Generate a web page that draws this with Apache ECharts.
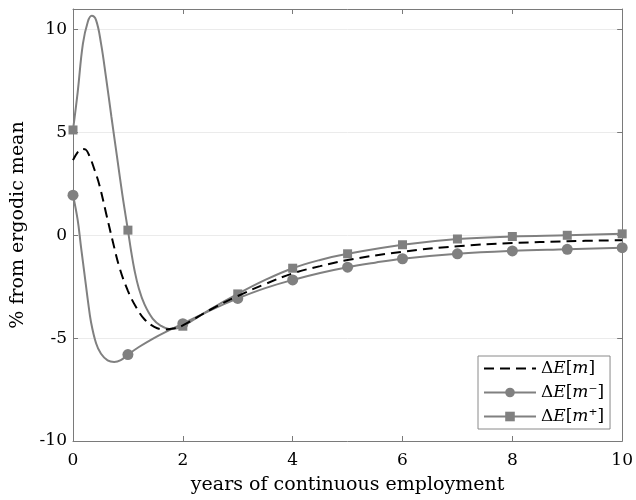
<!DOCTYPE html>
<html>
<head>
<meta charset="utf-8">
<script src="https://cdn.jsdelivr.net/npm/echarts@6/dist/echarts.min.js"></script>
<style>html,body{margin:0;padding:0;background:#fff}#c{width:636px;height:500px}</style>
</head>
<body>
<div id="c"></div>
<script>
// ΔE[m] (dashed black)
var mX = [0, 0.08, 0.16, 0.23, 0.3, 0.39, 0.48, 0.6, 0.72, 0.85, 1.0, 1.15, 1.3, 1.48, 1.66, 1.85, 2, 2.5, 3, 3.5, 4, 4.5, 5, 6, 7, 8, 9, 10];
var mY = [3.65, 4.02, 4.2, 4.17, 3.85, 3.2, 2.45, 1.1, -0.25, -1.6, -2.7, -3.5, -4.08, -4.45, -4.58, -4.52, -4.38, -3.62, -2.95, -2.37, -1.85, -1.5, -1.2, -0.8, -0.53, -0.38, -0.29, -0.24];
// ΔE[m-] (circles)
var mMinusX = [0, 0.085, 0.145, 0.21, 0.27, 0.33, 0.42, 0.51, 0.63, 0.75, 0.87, 1.0, 1.2, 1.45, 1.7, 2, 2.5, 3, 3.5, 4, 4.5, 5, 5.5, 6, 7, 8, 9, 10];
var mMinusY = [1.95, 0.75, -0.55, -1.9, -3.15, -4.25, -5.25, -5.76, -6.08, -6.16, -6.07, -5.8, -5.43, -5.03, -4.68, -4.3, -3.65, -3.07, -2.57, -2.17, -1.83, -1.55, -1.33, -1.14, -0.9, -0.76, -0.68, -0.6];
// ΔE[m+] (squares)
var mPlusX = [0, 0.085, 0.18, 0.27, 0.34, 0.42, 0.51, 0.6, 0.7, 0.8, 0.9, 1.0, 1.06, 1.12, 1.2, 1.3, 1.45, 1.6, 1.75, 1.9, 2, 2.5, 3, 3.5, 4, 4.5, 5, 6, 7, 8, 9, 10];
var mPlusY = [5.12, 6.95, 9.3, 10.38, 10.67, 10.46, 9.33, 7.7, 5.75, 3.85, 1.95, 0.25, -0.8, -1.7, -2.6, -3.35, -4.05, -4.4, -4.55, -4.52, -4.42, -3.6, -2.85, -2.17, -1.6, -1.2, -0.9, -0.46, -0.18, -0.06, 0.0, 0.07];
var xTicks = [0, 2, 4, 6, 8, 10];
var yTicks = [-10, -5, 0, 5, 10];

var FONT = 'DejaVu Serif';
var GRAY = '#808080';
var AX = '#7a7a7a';

function build(xs, ys, marked) {
  return xs.map(function (x, i) {
    var item = { value: [x, ys[i]] };
    if (!marked || Math.abs(x - Math.round(x)) > 1e-9) item.symbol = 'none';
    return item;
  });
}

var chart = echarts.init(document.getElementById('c'), null, { renderer: 'canvas' });
var axLine = { show: true, onZero: false, lineStyle: { color: AX, width: 1 } };
var axTick = { show: true, inside: true, length: 5, lineStyle: { color: AX } };
chart.setOption({
  animation: false,
  backgroundColor: '#fff',
  grid: { left: 73, right: 13, top: 9, bottom: 59, containLabel: false },
  legend: {
    orient: 'vertical',
    left: 478, top: 356,
    padding: [3, 6, 3, 5],
    itemWidth: 52, itemHeight: 12, itemGap: 5,
    backgroundColor: '#fff',
    borderColor: '#8a8a8a', borderWidth: 1, borderRadius: 0,
    data: [
      { name: 'm', itemStyle: { color: 'rgba(0,0,0,0)', borderWidth: 0, opacity: 0 } },
      { name: 'mMinus' },
      { name: 'mPlus' }
    ],
    formatter: function (n) {
      if (n === 'm') return '{r|Δ}{i|E}{r|[}{i|m}{r|]}';
      if (n === 'mMinus') return '{r|Δ}{i|E}{r|[}{i|m}{r|⁻]}';
      return '{r|Δ}{i|E}{r|[}{i|m}{r|⁺]}';
    },
    textStyle: {
      fontFamily: FONT, fontSize: 17, color: '#000', lineHeight: 19,
      rich: {
        r: { fontFamily: FONT, fontSize: 17, color: '#000' },
        i: { fontFamily: FONT, fontSize: 17, fontStyle: 'italic', color: '#000' }
      }
    }
  },
  xAxis: [{
    type: 'value', min: 0, max: 10, interval: 2,
    name: 'years of continuous employment', nameLocation: 'middle', nameGap: 35,
    nameTextStyle: { fontFamily: FONT, fontSize: 19, color: '#000' },
    axisLine: axLine, axisTick: axTick,
    axisLabel: { fontFamily: FONT, fontSize: 17, color: '#000', margin: 11 },
    splitLine: { show: false }
  }, {
    type: 'value', min: 0, max: 10, interval: 2, position: 'top',
    axisLine: axLine, axisTick: axTick,
    axisLabel: { show: false }, splitLine: { show: false }
  }],
  yAxis: [{
    type: 'value', min: -10, max: 11, interval: 5,
    name: '% from ergodic mean', nameLocation: 'middle', nameGap: 45,
    nameTextStyle: { fontFamily: FONT, fontSize: 19, color: '#000' },
    axisLine: axLine, axisTick: axTick,
    axisLabel: { fontFamily: FONT, fontSize: 17, color: '#000', margin: 6, showMaxLabel: false },
    splitLine: { show: true, lineStyle: { color: '#ebebeb', width: 1 } }
  }, {
    type: 'value', min: -10, max: 11, interval: 5, position: 'right',
    axisLine: axLine, axisTick: axTick,
    axisLabel: { show: false }, splitLine: { show: false }
  }],
  series: [{
    name: 'm', type: 'line', xAxisIndex: 0, yAxisIndex: 0,
    data: build(mX, mY, false), symbol: 'none', smooth: 0.4,
    lineStyle: { color: '#000', width: 2, type: [10, 6] },
    itemStyle: { color: '#000' }, z: 3
  }, {
    name: 'mMinus', type: 'line', xAxisIndex: 0, yAxisIndex: 0,
    data: build(mMinusX, mMinusY, true), symbol: 'circle', symbolSize: 11, smooth: 0.4,
    lineStyle: { color: GRAY, width: 2 }, itemStyle: { color: GRAY }, z: 2
  }, {
    name: 'mPlus', type: 'line', xAxisIndex: 0, yAxisIndex: 0,
    data: build(mPlusX, mPlusY, true), symbol: 'rect', symbolSize: 9, smooth: 0.4,
    lineStyle: { color: GRAY, width: 2 }, itemStyle: { color: GRAY }, z: 2
  }]
});
</script>
</body>
</html>
